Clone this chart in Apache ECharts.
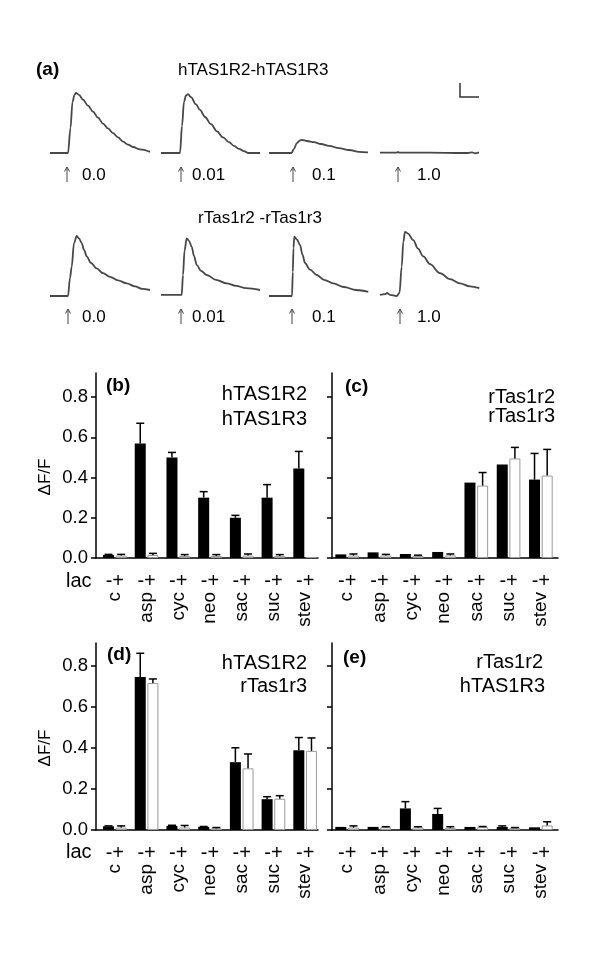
<!DOCTYPE html>
<html>
<head>
<meta charset="utf-8">
<title>Sweet taste receptor responses</title>
<script src="https://cdn.jsdelivr.net/npm/echarts@6/dist/echarts.min.js"></script>
<style>
  html, body { margin: 0; padding: 0; background: #fff; }
  #chart { width: 600px; height: 975px; }
</style>
</head>
<body>
<div id="chart"></div>
<script>
const FONT = 'Liberation Sans, Arial, Helvetica, sans-serif'

// panel (a): calcium traces, [time, relative response]
const hTrace00 = [[0, 0], [18, 0], [20.5, 0.42], [22.5, 0.85], [24.5, 0.97], [26, 1.0], [29, 0.97], [33, 0.89], [38, 0.79], [43, 0.69], [48, 0.59], [53, 0.49], [58, 0.41], [63, 0.33], [68, 0.26], [73, 0.19], [78, 0.14], [83, 0.1], [90, 0.06], [100, 0.02]]
const hTrace001 = [[0, 0], [19, 0], [21, 0.45], [23, 0.85], [25, 0.96], [27, 0.98], [30, 0.93], [35, 0.81], [39, 0.72], [44, 0.6], [50, 0.48], [56, 0.36], [62, 0.26], [68, 0.18], [73, 0.12], [78, 0.07], [83, 0.03], [87, 0], [99, 0]]
const hTrace01 = [[0, 0], [22.5, 0], [25, 0.07], [28, 0.17], [31, 0.21], [33, 0.22], [38, 0.2], [45, 0.18], [52, 0.15], [60, 0.12], [70, 0.08], [80, 0.05], [90, 0.02], [99, 0.01]]
const hTrace10 = [[0, 0.005], [17, 0.005], [18, 0.02], [19, 0.005], [50, 0.005], [80, 0], [88, 0], [92, 0.012], [95, -0.005], [99, 0.01]]
const rTrace00 = [[0, 0], [18, 0], [20, 0.3], [21.7, 0.49], [24, 0.88], [26.7, 1.0], [29, 0.96], [31.7, 0.88], [34, 0.77], [36.7, 0.66], [41, 0.55], [46.7, 0.46], [53, 0.38], [60, 0.32], [68, 0.26], [76.7, 0.21], [85, 0.16], [92, 0.12], [100, 0.1]]
const rTrace001 = [[0, 0.02], [20.7, 0.02], [22, 0.35], [23.5, 0.75], [25.7, 0.96], [28, 0.92], [30.7, 0.82], [33, 0.67], [35.7, 0.52], [40, 0.42], [45.7, 0.35], [55, 0.27], [65.7, 0.21], [75, 0.17], [85, 0.13], [99, 0.1]]
const rTrace01 = [[0, 0], [23, 0], [23.8, 0.4], [24.5, 0.8], [25.3, 0.99], [28, 0.94], [31, 0.85], [33.5, 0.69], [36, 0.55], [41, 0.44], [47.7, 0.35], [55, 0.27], [64.3, 0.21], [75, 0.15], [87, 0.1], [99.3, 0.07]]
const rTrace10 = [[0, 0.02], [5, 0.03], [7, 0.05], [10, 0.02], [16.7, 0], [19.5, 0.05], [21.7, 0.49], [23.3, 0.9], [25, 1.07], [28, 1.04], [33.3, 0.93], [38, 0.79], [43.3, 0.66], [50, 0.53], [60, 0.38], [70, 0.28], [80, 0.21], [90, 0.16], [99.3, 0.13]]
const concLabels = ['0.0', '0.01', '0.1', '1.0']

// panels (b)-(e): ΔF/F without (-) and with (+) lactisole
const sweeteners = ['c', 'asp', 'cyc', 'neo', 'sac', 'suc', 'stev']
const lacTick = '-+'
const yTicks = [0, 0.2, 0.4, 0.6, 0.8]

const bNoLac = [0.015, 0.57, 0.5, 0.3, 0.2, 0.3, 0.445]
const bNoLacErr = [0.003, 0.1, 0.025, 0.03, 0.012, 0.065, 0.085]
const bLac = [0.012, 0.015, 0.01, 0.01, 0.012, 0.01, 0.005]
const bLacErr = [0.006, 0.008, 0.007, 0.007, 0.008, 0.007, 0]

const cNoLac = [0.018, 0.028, 0.02, 0.03, 0.375, 0.465, 0.39]
const cNoLacErr = [0, 0, 0, 0, 0, 0, 0.13]
const cLac = [0.012, 0.012, 0.01, 0.013, 0.36, 0.495, 0.41]
const cLacErr = [0.008, 0.006, 0.004, 0.007, 0.065, 0.055, 0.13]

const dNoLac = [0.018, 0.745, 0.02, 0.015, 0.33, 0.15, 0.388]
const dNoLacErr = [0.002, 0.115, 0.003, 0.002, 0.07, 0.012, 0.062]
const dLac = [0.012, 0.715, 0.012, 0.008, 0.3, 0.152, 0.385]
const dLacErr = [0.008, 0.02, 0.01, 0.004, 0.07, 0.015, 0.063]

const eNoLac = [0.015, 0.015, 0.105, 0.078, 0.015, 0.015, 0.013]
const eNoLacErr = [0, 0, 0.033, 0.027, 0, 0.005, 0]
const eLac = [0.012, 0.013, 0.012, 0.01, 0.014, 0.01, 0.022]
const eLacErr = [0.008, 0.003, 0.004, 0.006, 0.003, 0.002, 0.018]

const traces = [hTrace00, hTrace001, hTrace01, hTrace10, rTrace00, rTrace001, rTrace01, rTrace10]
const traceLefts = [50, 161, 269, 380]
const traceTops = [87, 230]
const arrowX = [[67, 181, 293, 398], [68, 181, 292, 400]]
const concX = [82, 192, 312, 417]
const concY = [175, 317]

const BAR_W = 11
const BAR_GAP = 0.15
// distance from category centre to the centre of each bar in a pair
const pairOffset = (BAR_W * (1 + BAR_GAP)) / 2

const panels = [
  { frame: [96, 373, 222, 185], inner: [99, 222], max: 0.92, showLabels: true,
    minus: bNoLac, minusErr: bNoLacErr, plus: bLac, plusErr: bLacErr },
  { frame: [332, 373, 226, 185], inner: [331, 226], max: 0.92, showLabels: false,
    minus: cNoLac, minusErr: cNoLacErr, plus: cLac, plusErr: cLacErr },
  { frame: [96, 643, 222, 187], inner: [99, 222], max: 0.91, showLabels: true,
    minus: dNoLac, minusErr: dNoLacErr, plus: dLac, plusErr: dLacErr },
  { frame: [332, 643, 226, 187], inner: [331, 226], max: 0.91, showLabels: false,
    minus: eNoLac, minusErr: eNoLacErr, plus: eLac, plusErr: eLacErr }
]

const grid = []
const xAxis = []
const yAxis = []
const series = []

// trace grids
traces.forEach((trace, i) => {
  grid.push({ left: traceLefts[i % 4], top: traceTops[Math.floor(i / 4)], width: 100, height: 72 })
  xAxis.push({ type: 'value', gridIndex: i, min: 0, max: 100, show: false })
  yAxis.push({ type: 'value', gridIndex: i, min: -0.1, max: 1.1, show: false })
  series.push({
    type: 'line',
    xAxisIndex: i,
    yAxisIndex: i,
    data: trace,
    showSymbol: false,
    smooth: 0.35,
    smoothMonotone: 'x',
    lineStyle: { color: '#474747', width: 1.8 },
    silent: true
  })
})

const renderError = (params, api) => {
  const err = api.value(2)
  if (!err) return null
  const base = api.coord([api.value(0), api.value(1)])
  const top = api.coord([api.value(0), api.value(1) + err])
  const x = base[0] + api.value(3) * pairOffset
  const style = { stroke: '#000', lineWidth: 1.5 }
  return {
    type: 'group',
    children: [
      { type: 'line', shape: { x1: x, y1: base[1], x2: x, y2: top[1] }, style },
      { type: 'line', shape: { x1: x - 4, y1: top[1], x2: x + 4, y2: top[1] }, style }
    ]
  }
}

// frame grids carry the axis lines and y ticks, data grids carry bars and category labels
panels.forEach((p, k) => {
  grid[8 + k] = { left: p.frame[0], top: p.frame[1], width: p.frame[2], height: p.frame[3] }
  grid[12 + k] = { left: p.inner[0], top: p.frame[1], width: p.inner[1], height: p.frame[3] }
})

panels.forEach((p, k) => {
  xAxis.push({
    type: 'value', gridIndex: 8 + k, min: 0, max: 1,
    axisLine: { show: true, onZero: false, lineStyle: { color: '#000', width: 1.5 } },
    axisTick: { show: false }, axisLabel: { show: false }, splitLine: { show: false }
  })
  yAxis.push({
    type: 'value', gridIndex: 8 + k, min: 0, max: p.max,
    axisLine: { show: true, lineStyle: { color: '#000', width: 1.5 } },
    axisTick: { show: true, length: 5, customValues: yTicks, lineStyle: { color: '#000', width: 1.5 } },
    axisLabel: {
      show: p.showLabels, customValues: yTicks, margin: 8,
      color: '#000', fontSize: 18.5, fontFamily: FONT,
      formatter: (v) => v.toFixed(1)
    },
    splitLine: { show: false }
  })
})
panels.forEach((p, k) => {
  xAxis.push({
    type: 'category', gridIndex: 12 + k, data: sweeteners,
    axisLine: { show: false }, axisTick: { show: false },
    axisLabel: { margin: 13, color: '#000', fontSize: 20, fontFamily: FONT, formatter: () => lacTick }
  })
})
panels.forEach((p, k) => {
  xAxis.push({
    type: 'category', gridIndex: 12 + k, data: sweeteners, position: 'bottom', offset: 0,
    axisLine: { show: false }, axisTick: { show: false },
    axisLabel: { rotate: 90, margin: 34, color: '#000', fontSize: 19, fontFamily: FONT }
  })
  yAxis.push({ type: 'value', gridIndex: 12 + k, min: 0, max: p.max, show: false })
})

panels.forEach((p, k) => {
  const ax = 12 + k
  const yi = 12 + k
  series.push({
    type: 'bar', xAxisIndex: ax, yAxisIndex: yi, data: p.minus,
    barWidth: BAR_W, barGap: BAR_GAP * 100 + '%',
    itemStyle: { color: '#000' }, silent: true
  })
  series.push({
    type: 'bar', xAxisIndex: ax, yAxisIndex: yi, data: p.plus,
    barWidth: BAR_W, barGap: BAR_GAP * 100 + '%',
    itemStyle: { color: '#fff', borderColor: '#9a9a9a', borderWidth: 1 }, silent: true
  })
  const errData = []
  sweeteners.forEach((s, i) => {
    errData.push([i, p.minus[i], p.minusErr[i], -1])
    errData.push([i, p.plus[i], p.plusErr[i], 1])
  })
  series.push({
    type: 'custom', xAxisIndex: ax, yAxisIndex: yi, data: errData,
    encode: { x: 0, y: 1 }, renderItem: renderError, z: 5, silent: true
  })
})

const text = (str, x, y, opts = {}) => ({
  type: 'text',
  x, y,
  rotation: opts.rotation || 0,
  silent: true,
  style: {
    text: str,
    x: 0, y: 0,
    fill: '#000',
    fontSize: opts.size || 20,
    fontWeight: opts.bold ? 'bold' : 'normal',
    fontFamily: FONT,
    align: opts.align || 'left',
    textAlign: opts.align || 'left',
    verticalAlign: 'middle',
    textVerticalAlign: 'middle'
  }
})

const arrow = (x, yTop, yBottom) => ({
  type: 'group',
  silent: true,
  children: [
    { type: 'line', shape: { x1: x, y1: yBottom, x2: x, y2: yTop }, style: { stroke: '#444', lineWidth: 1 } },
    { type: 'polyline', shape: { points: [[x - 2.5, yTop + 4.5], [x, yTop], [x + 2.5, yTop + 4.5]] }, style: { stroke: '#444', lineWidth: 1, fill: null } }
  ]
})

const graphic = [
  text('(a)', 36, 70, { bold: true, size: 19 }),
  text('hTAS1R2-hTAS1R3', 178, 70, { size: 17 }),
  text('rTas1r2 -rTas1r3', 260, 218, { size: 17, align: 'center' }),
  { type: 'polyline', silent: true, shape: { points: [[460, 83], [460, 97], [479, 97]] }, style: { stroke: '#333', lineWidth: 1.5, fill: null } },
  text('(b)', 106, 386, { bold: true, size: 19 }),
  text('hTAS1R2', 307, 394, { align: 'right' }),
  text('hTAS1R3', 307, 419, { align: 'right' }),
  text('(c)', 345, 387, { bold: true, size: 19 }),
  text('rTas1r2', 555, 397, { align: 'right' }),
  text('rTas1r3', 555, 416, { align: 'right' }),
  text('(d)', 107, 655, { bold: true, size: 19 }),
  text('hTAS1R2', 307, 663, { align: 'right' }),
  text('rTas1r3', 307, 686, { align: 'right' }),
  text('(e)', 343, 658, { bold: true, size: 19 }),
  text('rTas1r2', 543, 662, { align: 'right' }),
  text('hTAS1R3', 545, 686, { align: 'right' }),
  text('lac', 66, 581),
  text('lac', 66, 852),
  text('ΔF/F', 45, 477, { size: 17, align: 'center', rotation: Math.PI / 2 }),
  text('ΔF/F', 45, 748, { size: 17, align: 'center', rotation: Math.PI / 2 })
]
arrowX.forEach((row, r) => {
  row.forEach((x, i) => {
    graphic.push(arrow(x, concY[r] - 8, concY[r] + 7))
    graphic.push(text(concLabels[i], concX[i], concY[r], { size: 17 }))
  })
})

const chart = echarts.init(document.getElementById('chart'))
chart.setOption({
  backgroundColor: '#fff',
  animation: false,
  grid,
  xAxis,
  yAxis,
  series,
  graphic
})
window.addEventListener('resize', () => chart.resize())
</script>
</body>
</html>
